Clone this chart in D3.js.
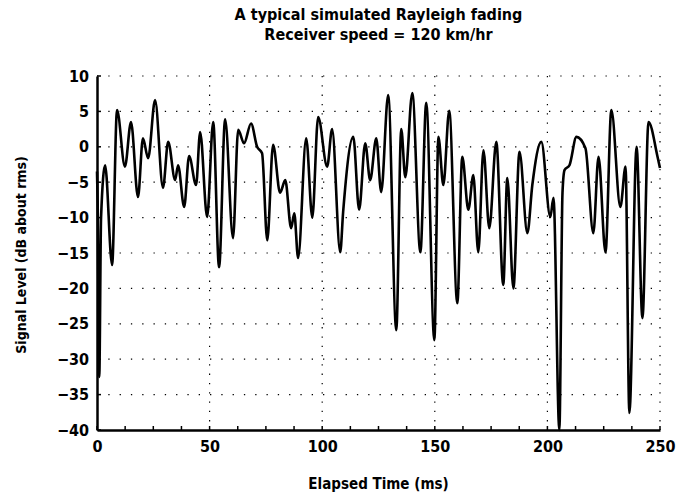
<!DOCTYPE html>
<html>
<head>
<meta charset="utf-8">
<script src="https://cdn.jsdelivr.net/npm/d3@7"></script>
<style>
  body { margin: 0; background: #fff; }
  text { font-family: "Liberation Sans Narrow", "DejaVu Sans Condensed", sans-serif; fill: #000; }
</style>
</head>
<body>
<svg class="chart" width="677" height="497"></svg>
<script>
// elapsed time (ms) and signal level (dB about rms)
var times = [0, 0.3, 1.0, 1.8, 3.6, 6.7, 8.9, 12.4, 15.1, 18.2, 20.4, 22.7, 25.8, 29.3, 31.6, 34.7, 36.0, 38.7,
    40.9, 44.0, 45.8, 48.9, 51.6, 54.2, 56.9, 60.4, 62.7, 65.3, 68.4, 71.1, 73.3, 75.6, 78.2, 81.3, 83.6, 86.2,
    87.6, 89.3, 92.9, 95.6, 98.2, 102.2, 104.4, 108.0, 109.3, 113.8, 116.4, 119.1, 121.3, 124.0, 126.2, 129.3,
    132.9, 135.1, 136.9, 140.0, 143.6, 146.2, 149.8, 151.6, 153.8, 156.4, 160.0, 162.2, 164.9, 167.1, 169.3,
    171.6, 174.2, 177.3, 180.4, 182.2, 184.9, 187.6, 191.1, 193.3, 197.3, 201.3, 202.7, 205.3, 206.7, 207.6,
    209.8, 212.9, 216.9, 220.4, 222.7, 225.8, 228.4, 232.4, 234.7, 236.4, 239.6, 242.2, 244.9, 248.9, 250];
var levels = [-3.5, -8, -32.5, -10, -2.6, -16.7, 5.2, -2.8, 3.5, -7.1, 1.2, -1.6, 6.6, -5.8, 0.7, -4.7, -2.6, -8.5,
    -1.3, -5.4, 2.1, -9.9, 3.5, -17, 3.9, -12.9, 2.4, 0.5, 3.3, 0, -0.9, -13.2, 0.3, -6.5, -4.7, -11.5,
    -9.4, -15.7, 1.2, -10, 4.2, -2.8, 2.5, -14.9, -9.2, 1.4, -8.9, 0.5, -4.7, 1.2, -6.4, 7.3,
    -25.9, 2.5, -4.3, 7.6, -14.9, 6.2, -27.3, 1.4, -5.4, 5.1, -22.1, -1.4, -8.9, -4.0, -14.9,
    -0.5, -11.5, 0.7, -19.5, -4.4, -20, -0.7, -12.2, -5.4, 0.7, -9.9, -7.2, -40, -6.5, -3.3,
    -2.6, 1.4, -0.2, -12.2, -1.4, -14.9, 5.2, -8.5, -2.8, -37.6, 0, -24.2, 3.5, -1.4, -3];

var xTicks = [0, 50, 100, 150, 200, 250];
var yTicks = [10, 5, 0, -5, -10, -15, -20, -25, -30, -35, -40];
var xMinor = d3.range(0, 251, 12.5);

var title1 = "A typical simulated Rayleigh fading";
var title2 = "Receiver speed = 120 km/hr";

var margin = {left: 97, right: 17, top: 76, bottom: 67};
var width = 677 - margin.left - margin.right;
var height = 497 - margin.top - margin.bottom;

var x = d3.scaleLinear().domain([0, 250]).range([0, width]);
var y = d3.scaleLinear().domain([-40, 10]).range([height, 0]);

var svg = d3.select("svg.chart");
var g = svg.append("g").attr("transform", `translate(${margin.left},${margin.top})`);

// dotted grid
g.append("g").selectAll("line")
    .data(yTicks.filter(d => d > -40))
    .enter().append("line")
    .attr("x1", 0).attr("x2", width)
    .attr("y1", d => y(d)).attr("y2", d => y(d))
    .style("stroke", "#000").style("stroke-width", 1.2)
    .style("stroke-dasharray", "1.3,10");

g.append("g").selectAll("line")
    .data(xTicks.filter(d => d > 0))
    .enter().append("line")
    .attr("x1", d => x(d)).attr("x2", d => x(d))
    .attr("y1", 0).attr("y2", height)
    .style("stroke", "#000").style("stroke-width", 1.2)
    .style("stroke-dasharray", "1.3,8");

// axes
var xAxis = d3.axisBottom(x).tickValues(xTicks).tickSize(0).tickPadding(11);
var yAxis = d3.axisLeft(y).tickValues(yTicks).tickSize(0).tickPadding(8)
    .tickFormat(d => d < 0 ? "\u2212" + Math.abs(d) : d);

var gx = g.append("g").attr("transform", `translate(0,${height})`).call(xAxis);
var gy = g.append("g").call(yAxis);
[gx, gy].forEach(a => {
    a.select(".domain").style("stroke", "#000").style("stroke-width", 2.5);
    a.selectAll("text").style("font-size", "16px").style("font-weight", "bold");
});

// small inward ticks
g.append("g").selectAll("line")
    .data(yTicks)
    .enter().append("line")
    .attr("x1", 0).attr("x2", 4)
    .attr("y1", d => y(d)).attr("y2", d => y(d))
    .style("stroke", "#000").style("stroke-width", 1.5);
g.append("g").selectAll("line")
    .data(xMinor)
    .enter().append("line")
    .attr("x1", d => x(d)).attr("x2", d => x(d))
    .attr("y1", height).attr("y2", height - 4)
    .style("stroke", "#000").style("stroke-width", 1.5);

// signal trace
var points = times.map((t, i) => [t, levels[i]]);
var line = d3.line()
    .x(d => x(d[0]))
    .y(d => y(d[1]))
    .curve(d3.curveMonotoneX);

g.append("path")
    .datum(points)
    .attr("d", line)
    .style("fill", "none")
    .style("stroke", "#000")
    .style("stroke-width", 2.6)
    .style("stroke-linejoin", "round");

// titles and labels
svg.append("text").attr("x", margin.left + width / 2).attr("y", 20)
    .style("text-anchor", "middle").style("font-size", "16px").style("font-weight", "bold")
    .text(title1);
svg.append("text").attr("x", margin.left + width / 2).attr("y", 40)
    .style("text-anchor", "middle").style("font-size", "16px").style("font-weight", "bold")
    .text(title2);

svg.append("text").attr("x", margin.left + width / 2).attr("y", 489)
    .style("text-anchor", "middle").style("font-size", "15px").style("font-weight", "bold")
    .text("Elapsed Time (ms)");

svg.append("text")
    .attr("transform", `translate(26,${margin.top + height / 2 + 2}) rotate(-90)`)
    .style("text-anchor", "middle").style("font-size", "14px").style("font-weight", "bold")
    .text("Signal Level (dB about rms)");
</script>
</body>
</html>
